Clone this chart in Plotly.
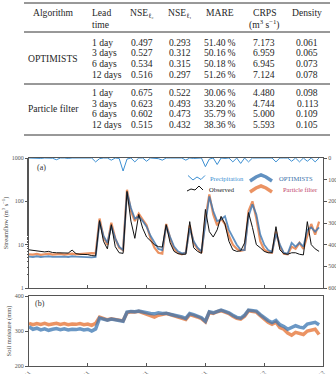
import plotly.graph_objects as go

W, H = 336, 374


def px(x):
    return x / W


def py(y):
    return 1 - y / H


# ---------------- table data ----------------
algorithms = ["OPTIMISTS", "Particle filter"]
lead_times = ["1 day", "3 days", "6 days", "12 days"]
nse_l2 = [[0.497, 0.527, 0.534, 0.516], [0.675, 0.623, 0.602, 0.515]]
nse_l1 = [[0.293, 0.312, 0.315, 0.297], [0.522, 0.493, 0.473, 0.432]]
mare = [[51.40, 50.16, 50.18, 51.26], [30.06, 33.20, 35.79, 38.36]]
crps = [[7.173, 6.959, 6.945, 7.124], [4.480, 4.744, 5.000, 5.593]]
density = [[0.061, 0.065, 0.073, 0.078], [0.098, 0.113, 0.109, 0.105]]

# ---------------- time series data (every 2 days) ----------------
days = list(range(0, 150, 2))
tick_days = [0, 30, 60, 90, 120, 150]
tick_labels = ["01/10/2011", "31/10/2011", "30/11/2011", "30/12/2011", "29/01/2012", "28/02/2012"]

observed = [7.6, 7.4, 7.2, 7.0, 6.8, 7.0, 6.6, 6.5, 6.4, 6.3,
            6.4, 7.5, 6.2, 6.0, 6.0, 5.9, 5.6, 5.5, 36, 12,
            8, 29, 9, 6.5, 6.3, 170, 35, 14, 50, 24,
            15, 12, 10, 9, 8.8, 29, 11, 7, 6.2, 6.0,
            6.0, 34, 8.5, 7, 6.3, 65, 20, 15, 22, 45,
            30, 12, 7.6, 7, 7.2, 11, 55, 25, 10, 8.5,
            7, 6.5, 6.5, 26, 7.6, 6.2, 6, 6.5, 6.5, 6,
            5.8, 34, 10, 8, 7]

particle_flow = [6.0, 5.9, 6.1, 5.8, 6.0, 6.2, 5.9, 6.0, 6.1, 5.9,
                 6.0, 6.2, 6.0, 6.1, 6.3, 6.2, 6.4, 6.3, 40, 15,
                 10, 32, 14, 8.5, 7.5, 185, 60, 35, 52, 38,
                 28, 14, 8.5, 6.5, 6.2, 30, 14, 8, 6.5, 6.0,
                 6.5, 28, 11, 8, 6.5, 40, 145, 50, 28, 40,
                 30, 16, 10, 8, 7.2, 7.6, 60, 100, 40, 12,
                 7.6, 6.8, 6.5, 20, 9, 6.2, 6, 9, 8, 11,
                 8, 16, 30, 17, 34]

optimists_flow = [5.3, 5.2, 5.4, 5.2, 5.3, 5.4, 5.2, 5.3, 5.2, 5.3,
                  5.2, 5.4, 5.3, 5.2, 5.3, 5.2, 5.1, 5.2, 34, 16,
                  11, 27, 14, 9, 7.5, 160, 70, 40, 45, 35,
                  26, 16, 11, 8, 7.5, 27, 15, 9, 7, 6.3,
                  6.5, 24, 12, 8.5, 7, 30, 130, 60, 35, 38,
                  45, 22, 15, 10, 7.6, 7.5, 45, 85, 50, 17,
                  10, 7.5, 6.8, 18, 10, 6.5, 6.2, 11, 9, 11,
                  9, 22, 25, 20, 25]

precipitation = [0, 1, 0, 2, 0, 0, 1, 8, 0, 0,
                 2, 0, 0, 1, 0, 0, 0, 18, 3, 0,
                 0, 10, 0, 2, 60, 5, 0, 18, 0, 0,
                 15, 0, 0, 3, 10, 0, 0, 0, 1, 0,
                 10, 0, 2, 0, 0, 40, 5, 0, 30, 0,
                 2, 0, 18, 0, 25, 0, 18, 0, 0, 0,
                 0, 2, 0, 18, 0, 0, 0, 15, 0, 18,
                 0, 15, 0, 18, 0]

optimists_soil = [312, 305, 308, 303, 306, 302, 305, 307, 304, 306,
                  303, 305, 304, 306, 303, 305, 300, 306, 337, 334,
                  331, 334, 331, 330, 328, 354, 356, 355, 357, 354,
                  352, 350, 349, 352, 350, 351, 348, 346, 344, 340,
                  336, 350, 347, 343, 338, 328, 355, 352, 357, 360,
                  356, 352, 345, 339, 337, 345, 360, 359, 357, 347,
                  338, 330, 324, 330, 318, 313, 305, 309, 315, 311,
                  309, 320, 322, 325, 318]

particle_soil = [322, 318, 321, 319, 322, 318, 320, 322, 319, 321,
                 318, 320, 319, 321, 318, 320, 316, 322, 340, 336,
                 332, 335, 332, 331, 329, 352, 355, 354, 356, 352,
                 346, 342, 340, 345, 348, 350, 347, 344, 341, 337,
                 333, 347, 344, 340, 335, 326, 353, 350, 355, 358,
                 354, 350, 342, 336, 334, 342, 358, 357, 354, 344,
                 334, 325, 319, 325, 310, 305, 294, 288, 296, 292,
                 290, 300, 302, 305, 290]

BLUE = "rgba(58,118,178,0.80)"
ORANGE = "rgba(230,120,60,0.80)"
PRECIP = "#3c8fd2"
SERIF = "Liberation Serif"
AX = "#555555"

fig = go.Figure()

# streamflow panel
fig.add_trace(go.Scatter(x=days, y=particle_flow, mode="lines", xaxis="x", yaxis="y",
                         line=dict(color=ORANGE, width=2.2), showlegend=False))
fig.add_trace(go.Scatter(x=days, y=optimists_flow, mode="lines", xaxis="x", yaxis="y",
                         line=dict(color=BLUE, width=1.8), showlegend=False))
fig.add_trace(go.Scatter(x=days, y=observed, mode="lines", xaxis="x", yaxis="y",
                         line=dict(color="#111111", width=1), showlegend=False))
fig.add_trace(go.Scatter(x=days, y=precipitation, mode="lines", xaxis="x", yaxis="y2",
                         line=dict(color=PRECIP, width=1), showlegend=False))

# soil moisture panel
fig.add_trace(go.Scatter(x=days, y=particle_soil, mode="lines", xaxis="x2", yaxis="y3",
                         line=dict(color=ORANGE, width=3.5), showlegend=False))
fig.add_trace(go.Scatter(x=days, y=optimists_soil, mode="lines", xaxis="x2", yaxis="y3",
                         line=dict(color="rgba(58,118,178,0.75)", width=3.5), showlegend=False))

tickfont = dict(family=SERIF, size=6, color=AX)
xdom = [px(29), px(323)]

fig.update_layout(
    width=W, height=374,
    margin=dict(l=0, r=0, t=0, b=0),
    paper_bgcolor="white", plot_bgcolor="white",
    showlegend=False,
    xaxis=dict(domain=xdom, anchor="y", range=[0, 150], tickvals=tick_days,
               showticklabels=False, ticks="inside", ticklen=3, tickcolor=AX,
               showline=True, linecolor=AX, linewidth=1, mirror=True,
               showgrid=False, zeroline=False),
    yaxis=dict(domain=[py(288), py(158)], anchor="x", type="log", range=[0, 3],
               tickvals=[1, 10, 100, 1000], ticktext=["1", "10", "100", "1000"],
               ticks="outside", ticklen=3, tickcolor=AX, tickfont=tickfont,
               minor=dict(ticks="outside", ticklen=1.5, tickcolor=AX, showgrid=False),
               showline=True, linecolor=AX, linewidth=1,
               showgrid=False, zeroline=False, automargin=False,
               title=dict(text="Streamflow (m<sup>3</sup> s<sup>−1</sup>)",
                          font=dict(family=SERIF, size=6.5, color="#444"), standoff=2)),
    yaxis2=dict(overlaying="y", anchor="x", side="right", range=[600, 0],
                tickvals=[0, 100, 200, 300, 400, 500, 600],
                ticks="outside", ticklen=3, tickcolor=AX, tickfont=tickfont,
                showline=True, linecolor=AX, linewidth=1,
                showgrid=False, zeroline=False, automargin=False),
    xaxis2=dict(domain=xdom, anchor="y3", range=[0, 150], tickvals=tick_days,
                ticktext=tick_labels, tickangle=-45, tickfont=tickfont,
                ticks="inside", ticklen=3, tickcolor=AX,
                showline=True, linecolor=AX, linewidth=1, mirror=True,
                showgrid=False, zeroline=False, automargin=False),
    yaxis3=dict(domain=[py(366), py(296)], anchor="x2", range=[200, 400],
                tickvals=[200, 300, 400], ticks="outside", ticklen=3, tickcolor=AX,
                tickfont=tickfont, showline=True, linecolor=AX, linewidth=1, mirror=True,
                showgrid=False, zeroline=False, automargin=False,
                title=dict(text="Soil moisture (mm)",
                           font=dict(family=SERIF, size=6.5, color="#444"), standoff=2)),
)

ann = []
shapes = []
TF = dict(family=SERIF, size=9.6, color="#262626")

# table rules
for yy in [3, 32, 84, 135]:
    shapes.append(dict(type="line", xref="paper", yref="paper", x0=px(24), x1=px(330),
                       y0=py(yy), y1=py(yy), line=dict(color="#333", width=1)))


def text(x, y, s, anchor="center", font=TF):
    ann.append(dict(x=px(x), y=py(y), xref="paper", yref="paper", text=s, showarrow=False,
                    xanchor=anchor, yanchor="middle", font=font))


# table header
text(31, 12, "Algorithm", "left")
text(90, 12, "Lead", "left")
text(90, 24, "time", "left")
text(142, 13, "NSE<sub>ℓ₂</sub>")
text(180, 13, "NSE<sub>ℓ₁</sub>")
text(220, 12, "MARE")
text(264, 12, "CRPS")
text(264, 24, "(m<sup>3</sup> s<sup>−1</sup>)")
text(307, 12, "Density")

group_rows = [[42, 52.7, 63.4, 74.1], [92.5, 103.2, 113.9, 124.6]]
col_x = [142, 180, 220, 264, 307]
for g, alg in enumerate(algorithms):
    rows = group_rows[g]
    text(53, sum(rows) / 4, alg)
    for i, lt in enumerate(lead_times):
        y = rows[i]
        text(90, y, lt, "left")
        text(col_x[0], y, f"{nse_l2[g][i]:.3f}")
        text(col_x[1], y, f"{nse_l1[g][i]:.3f}")
        text(col_x[2], y, f"{mare[g][i]:.2f}\u2009%")
        text(col_x[3], y, f"{crps[g][i]:.3f}")
        text(col_x[4], y, f"{density[g][i]:.3f}")

# panel labels
text(35, 167, "(a)", "left", dict(family=SERIF, size=8, color="#333"))
text(33, 303, "(b)", "left", dict(family=SERIF, size=8, color="#333"))


# custom legend
def path(points):
    return "M " + " L ".join(f"{px(a):.5f},{py(b):.5f}" for a, b in points)


legend_items = [
    ([(188, 175.5), (193, 180), (197, 177), (201, 179.5), (205, 175.5)], PRECIP, 1,
     208, 178, "Precipitation", "#3c8fd2"),
    ([(250, 181), (256, 177), (261, 175), (266, 177), (272, 181)], BLUE, 3.5,
     277, 178, "OPTIMISTS", "#3a6fa8"),
    ([(187, 191), (191, 189), (195, 190), (199, 186), (203, 190)], "#111", 1,
     207, 189, "Observed", "#222"),
    ([(250, 192), (256, 188), (261, 186), (266, 188), (272, 192)], ORANGE, 3.5,
     281, 189, "Particle filter", "#c2456a"),
]
for pts, col, w, tx, ty, label, tcol in legend_items:
    shapes.append(dict(type="path", xref="paper", yref="paper", path=path(pts),
                       line=dict(color=col, width=w)))
    text(tx, ty, label, "left", dict(family=SERIF, size=6.5, color=tcol))

fig.update_layout(annotations=ann, shapes=shapes)
fig.write_html("out.html")
